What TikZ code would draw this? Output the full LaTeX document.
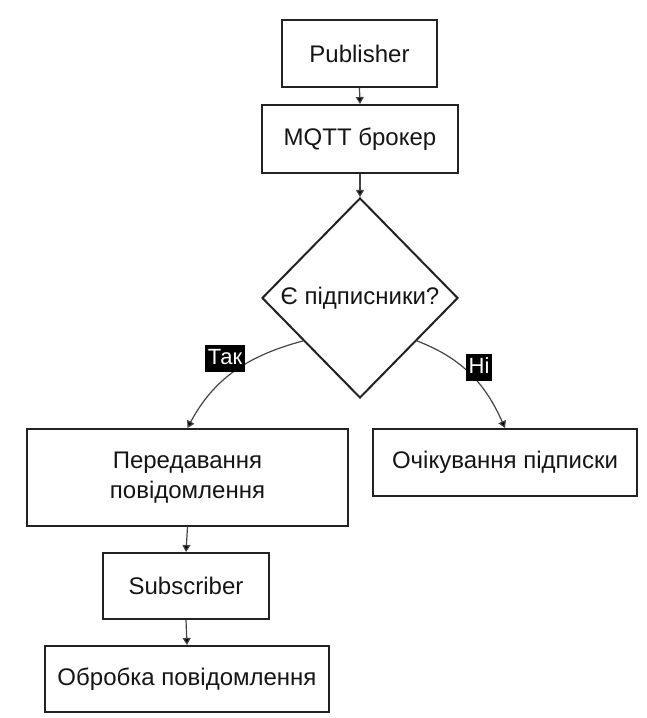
\documentclass[tikz,border=0pt]{standalone}
\usepackage{fontspec}
\setmainfont{Liberation Sans}
\usetikzlibrary{shapes.geometric,arrows.meta}
\definecolor{boxline}{HTML}{222222}
\definecolor{edgecol}{HTML}{444444}
\definecolor{textcol}{HTML}{151515}
\begin{document}
\begin{tikzpicture}[x=1pt,y=1pt,
  box/.style={draw=boxline, line width=2pt, fill=white, inner sep=0pt,
    font=\fontsize{24}{30}\selectfont, align=center, text=textcol},
  decision/.style={box, diamond, aspect=1},
  flow/.style={draw=edgecol, line width=1.2pt,
    -{Triangle[length=7pt,width=8pt,fill=black]}},
  tag/.style={fill=black, text=white, inner xsep=3pt, inner ysep=3pt,
    text height=16pt, text depth=5pt,
    font=\fontsize{22}{24}\selectfont}
]
\useasboundingbox (0,0) rectangle (646,718);

% process boxes
\node[box, minimum width=155, minimum height=67] (pub)  at (359.5,664.5) {Publisher};
\node[box, minimum width=196, minimum height=68] (mqtt) at (360,579) {MQTT брокер};
\node[decision, minimum width=196, minimum height=200] (dec) at (360,420) {Є підписники?};
\node[box, minimum width=321, minimum height=97] (send) at (187.5,240.5) {Передавання\\повідомлення};
\node[box, minimum width=264, minimum height=67] (wait) at (505,255.5) {Очікування підписки};
\node[box, minimum width=166, minimum height=66] (sub)  at (186,132) {Subscriber};
\node[box, minimum width=284, minimum height=66] (proc) at (187,39) {Обробка повідомлення};

% connectors
\draw[flow] (pub.south) -- (mqtt.north);
\draw[flow] (mqtt.south) -- (dec.north);
\draw[flow] (dec.217) to[out=195,in=62] (send.north);
\draw[flow] (dec.-37) to[out=-21,in=114] (wait.north);
\draw[flow] (send.south) -- (sub.north);
\draw[flow] (sub.south) -- (proc.north);

% branch labels
\node[tag] (yes) at (225,359) {Так};
\node[tag] (no)  at (479,350) {Ні};
\end{tikzpicture}
\end{document}
